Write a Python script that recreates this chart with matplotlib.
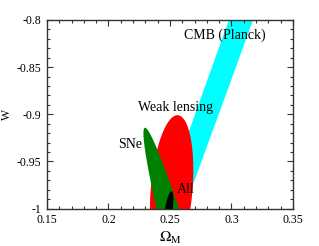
import matplotlib
matplotlib.use('Agg')
import matplotlib.pyplot as plt
import numpy as np
from matplotlib.ticker import FixedLocator, MultipleLocator

plt.rcParams['font.family'] = ['Liberation Serif', 'DejaVu Serif']
plt.rcParams['mathtext.fontset'] = 'stix'

# contour ellipses: centre, half-extent in x and w, correlation
names   = ['CMB (Planck)', 'Weak lensing', 'SNe', 'All']
colors  = ['#00ffff', '#ff0000', '#008000', '#000000']
x0      = [0.3077, 0.2513, 0.2980, 0.2488]
w0      = [-0.8000, -0.9804, -1.2318, -1.0029]
ax_half = [0.16649, 0.01765, 0.0696, 0.00398]
aw_half = [0.6000, 0.0794, 0.3175, 0.0212]
rho     = [0.99827, 0.27, -0.9812, 0.613]

# label anchors (baseline)
lab_x = [0.2942, 0.2543, 0.2178, 0.2627]
lab_w = [-0.8198, -0.8968, -0.9358, -0.9834]

xticks = [0.15, 0.2, 0.25, 0.3, 0.35]
xtick_labels = ['0.15', '0.2', '0.25', '0.3', '0.35']
yticks = [-1.0, -0.95, -0.9, -0.85, -0.8]
ytick_labels = ['-1', '-0.95', '-0.9', '-0.85', '-0.8']


def ellipse(xc, wc, ax_, aw_, r, n=600):
    t = np.linspace(0, 2 * np.pi, n)
    x = xc + ax_ * np.cos(t)
    w = wc + aw_ * (r * np.cos(t) + np.sqrt(1 - r ** 2) * np.sin(t))
    return x, w


fig = plt.figure(figsize=(3.19, 2.46), dpi=100)
ax = fig.add_axes([0.1473, 0.1524, 0.7712, 0.7663])

for i in range(len(names)):
    ex, ew = ellipse(x0[i], w0[i], ax_half[i], aw_half[i], rho[i])
    ax.fill(ex, ew, color=colors[i], lw=0, zorder=1 + i)
    ax.text(lab_x[i], lab_w[i], names[i], fontsize=10, ha='center',
            va='baseline', zorder=10)

ax.set_xlim(0.15, 0.35)
ax.set_ylim(-1.0, -0.8)
ax.xaxis.set_major_locator(FixedLocator(xticks))
ax.set_xticklabels(xtick_labels)
ax.yaxis.set_major_locator(FixedLocator(yticks))
ax.set_yticklabels(ytick_labels)
ax.xaxis.set_minor_locator(MultipleLocator(0.01))
ax.yaxis.set_minor_locator(MultipleLocator(0.01))
ax.tick_params(which='both', direction='in', top=True, right=True,
               color='#333333', width=0.8, labelsize=8.5, pad=4)
ax.tick_params(which='major', length=4)
ax.tick_params(which='minor', length=2)
for s in ax.spines.values():
    s.set_color('#333333')
    s.set_linewidth(1.0)
    s.set_zorder(20)

ax.set_xlabel(r'$\Omega_\mathrm{M}$', fontsize=11, labelpad=3)
ax.set_ylabel('W', fontsize=8.5, labelpad=3)

fig.savefig('out.png', dpi=100)
